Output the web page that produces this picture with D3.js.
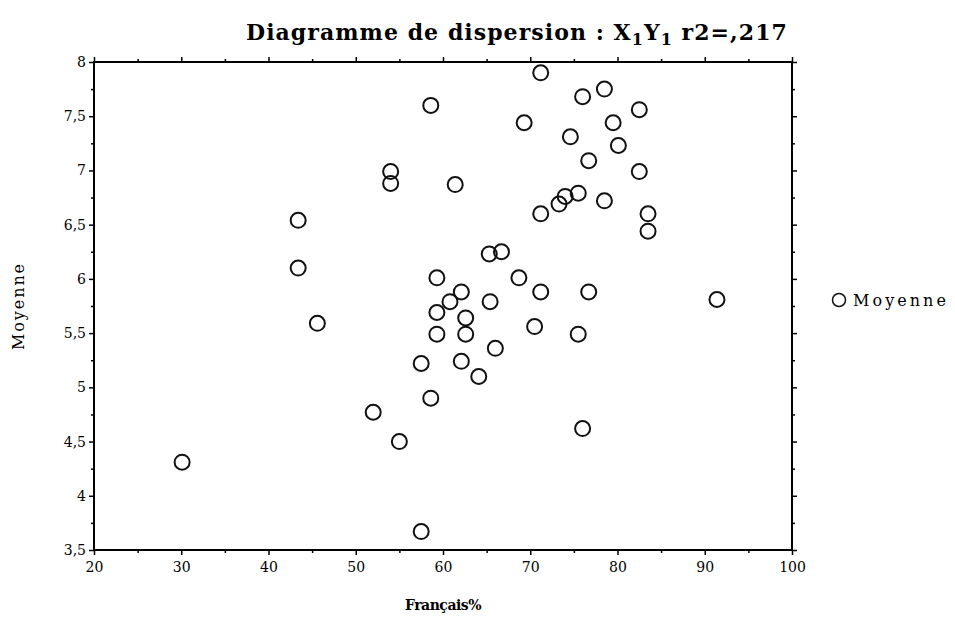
<!DOCTYPE html>
<html>
<head>
<meta charset="utf-8">
<script src="https://cdn.jsdelivr.net/npm/d3@7"></script>
<style>
body { margin: 0; background: #fff; }
</style>
</head>
<body>
<div id="chart"></div>
<script>
var francais = [30.1, 43.4, 43.4, 45.6, 52.0, 54.0, 54.0, 55.0, 57.5, 57.5,
  58.6, 58.6, 59.3, 59.3, 59.3, 60.8, 61.4, 62.1, 62.1, 62.6,
  62.6, 64.1, 65.3, 65.4, 66.0, 66.7, 68.7, 69.3, 70.5, 71.2,
  71.2, 71.2, 73.3, 74.0, 74.6, 75.5, 75.5, 76.0, 76.0, 76.7,
  76.7, 78.5, 78.5, 79.5, 80.1, 82.5, 82.5, 83.5, 83.5, 91.4];
var moyenne = [4.31, 6.54, 6.10, 5.59, 4.77, 6.99, 6.88, 4.50, 5.22, 3.67,
  7.60, 4.90, 6.01, 5.69, 5.49, 5.79, 6.87, 5.88, 5.24, 5.64,
  5.49, 5.10, 6.23, 5.79, 5.36, 6.25, 6.01, 7.44, 5.56, 7.90,
  6.60, 5.88, 6.69, 6.76, 7.31, 6.79, 5.49, 7.68, 4.62, 7.09,
  5.88, 7.75, 6.72, 7.44, 7.23, 7.56, 6.99, 6.60, 6.44, 5.81];
var xTicks = [20, 30, 40, 50, 60, 70, 80, 90, 100];
var yTicks = [3.5, 4, 4.5, 5, 5.5, 6, 6.5, 7, 7.5, 8];

var width = 955, height = 622;
var pLeft = 94, pRight = 792, pTop = 62, pBottom = 550;
var serif = "'DejaVu Serif', 'Liberation Serif', serif";

var svg = d3.select("#chart").append("svg")
  .attr("width", width)
  .attr("height", height)
  .style("background-color", "white");

var x = d3.scaleLinear().domain([20, 100]).range([pLeft, pRight]);
var y = d3.scaleLinear().domain([3.5, 8]).range([pBottom, pTop]);

var fmt = function(d) { return String(d).replace(".", ","); };
var xMinor = d3.range(25, 100, 10);
var yMinor = d3.range(3.75, 8, 0.5);

// stretch a text to a target width with letter spacing
function fit(sel, w) {
  var n = sel.text().length;
  var cur = sel.node().getComputedTextLength();
  sel.attr("letter-spacing", ((w - cur) / n) + "px");
}

function styleAxis(g) {
  g.select(".domain").remove();
  g.selectAll("line").attr("stroke", "#000").attr("stroke-width", 1.5);
  g.selectAll("text").attr("font-family", serif).attr("font-size", "14px").attr("fill", "#000");
}

// major + minor ticks, outward on all four sides
svg.append("g").attr("transform", "translate(0," + pBottom + ")")
  .call(d3.axisBottom(x).tickValues(xTicks).tickFormat(fmt).tickSize(5).tickPadding(7))
  .call(styleAxis);
svg.append("g").attr("transform", "translate(0," + pBottom + ")")
  .call(d3.axisBottom(x).tickValues(xMinor).tickFormat("").tickSize(3)).call(styleAxis);
svg.append("g").attr("transform", "translate(0," + pTop + ")")
  .call(d3.axisTop(x).tickValues(xTicks).tickFormat("").tickSize(5)).call(styleAxis);
svg.append("g").attr("transform", "translate(0," + pTop + ")")
  .call(d3.axisTop(x).tickValues(xMinor).tickFormat("").tickSize(3)).call(styleAxis);

svg.append("g").attr("transform", "translate(" + pLeft + ",0)")
  .call(d3.axisLeft(y).tickValues(yTicks).tickFormat(fmt).tickSize(5).tickPadding(3))
  .call(styleAxis);
svg.append("g").attr("transform", "translate(" + pLeft + ",0)")
  .call(d3.axisLeft(y).tickValues(yMinor).tickFormat("").tickSize(3)).call(styleAxis);
svg.append("g").attr("transform", "translate(" + pRight + ",0)")
  .call(d3.axisRight(y).tickValues(yTicks).tickFormat("").tickSize(5)).call(styleAxis);
svg.append("g").attr("transform", "translate(" + pRight + ",0)")
  .call(d3.axisRight(y).tickValues(yMinor).tickFormat("").tickSize(3)).call(styleAxis);

// frame
svg.append("rect")
  .attr("x", pLeft).attr("y", pTop)
  .attr("width", pRight - pLeft).attr("height", pBottom - pTop)
  .attr("fill", "none").attr("stroke", "#000").attr("stroke-width", 2);

// points
svg.append("g").selectAll("circle")
  .data(francais)
  .enter()
  .append("circle")
  .attr("cx", function(d) { return x(d); })
  .attr("cy", function(d, i) { return y(moyenne[i]); })
  .attr("r", 7.5)
  .attr("fill", "none")
  .attr("stroke", "#111")
  .attr("stroke-width", 2);

// title
var title = svg.append("text")
  .attr("x", 246).attr("y", 40)
  .attr("font-family", serif)
  .attr("font-size", "22px")
  .attr("font-weight", "bold");
title.append("tspan").text("Diagramme de dispersion  : X");
title.append("tspan").attr("dy", 5).attr("font-size", "16px").text("1");
title.append("tspan").attr("dy", -5).text("Y");
title.append("tspan").attr("dy", 5).attr("font-size", "16px").text("1");
title.append("tspan").attr("dy", -5).text("  r2=,217");
fit(title, 544);

// axis labels
var xl = svg.append("text")
  .attr("x", 405).attr("y", 610)
  .attr("font-family", serif).attr("font-size", "14px").attr("font-weight", "bold")
  .text("Français%");
fit(xl, 76);

var yl = svg.append("text")
  .attr("transform", "translate(24,350) rotate(-90)")
  .attr("font-family", serif).attr("font-size", "16px")
  .text("Moyenne");
fit(yl, 88);

// legend
svg.append("circle")
  .attr("cx", 839).attr("cy", 300).attr("r", 6.5)
  .attr("fill", "none").attr("stroke", "#111").attr("stroke-width", 1.5);
var lg = svg.append("text")
  .attr("x", 853).attr("y", 306)
  .attr("font-family", serif).attr("font-size", "16px")
  .text("Moyenne");
fit(lg, 96);
</script>
</body>
</html>
